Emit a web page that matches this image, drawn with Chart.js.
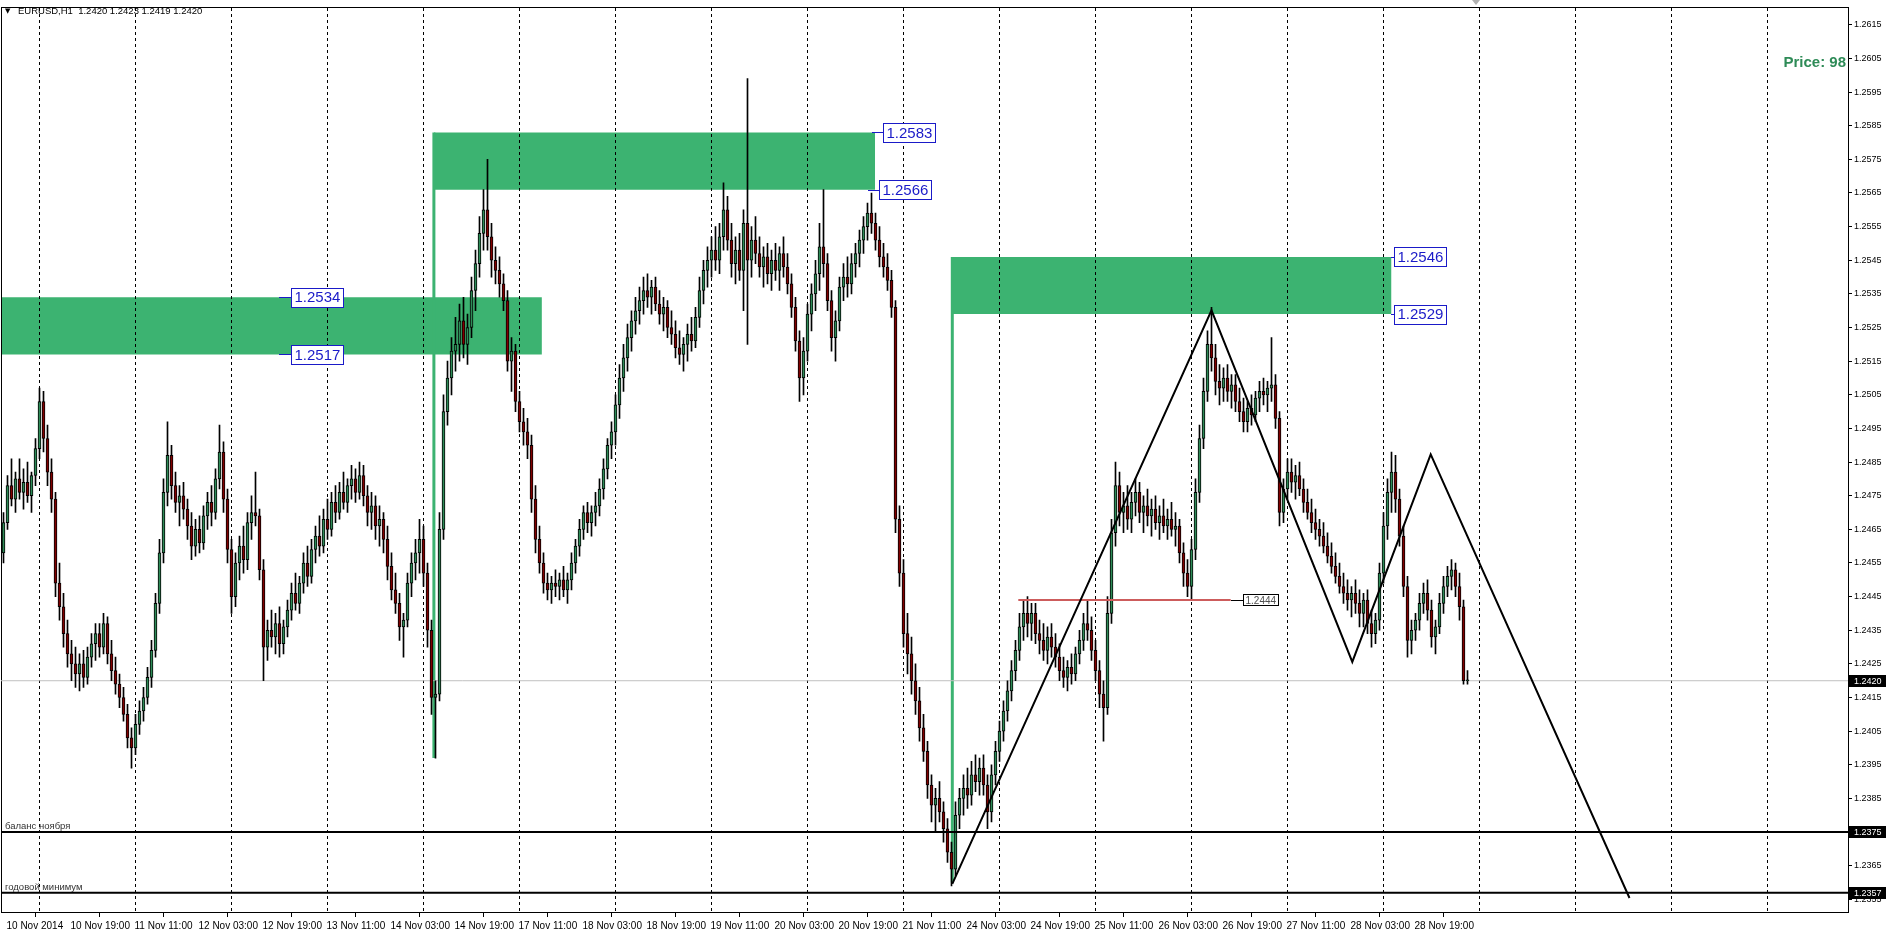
<!DOCTYPE html>
<html><head><meta charset="utf-8"><title>EURUSD,H1</title>
<script src="https://cdn.jsdelivr.net/npm/chart.js@4.4.1/dist/chart.umd.min.js"></script>
<style>
html,body{margin:0;padding:0;background:#fff;overflow:hidden;}
#c{display:block;}
</style></head><body>
<canvas id="c" width="1890" height="941"></canvas>
<script>
// ---------------- data ----------------
const symbolName = 'EURUSD,H1';
const priceIndicatorText = 'Price: 98';
const timeLabels = ['10 Nov 2014','10 Nov 19:00','11 Nov 11:00','12 Nov 03:00','12 Nov 19:00','13 Nov 11:00','14 Nov 03:00','14 Nov 19:00','17 Nov 11:00','18 Nov 03:00','18 Nov 19:00','19 Nov 11:00','20 Nov 03:00','20 Nov 19:00','21 Nov 11:00','24 Nov 03:00','24 Nov 19:00','25 Nov 11:00','26 Nov 03:00','26 Nov 19:00','27 Nov 11:00','28 Nov 03:00','28 Nov 19:00'];
const timeLabelBars = [0,16,32,48,64,80,96,112,128,144,160,176,192,208,224,240,256,272,288,304,320,336,352];
const dayBreakBars = [21,45,69,93,117,141,165,189,213,237,261,285,309,333,357,381,405,429,453];
const priceTicks = [1.2355,1.2365,1.2375,1.2385,1.2395,1.2405,1.2415,1.2425,1.2435,1.2445,1.2455,1.2465,1.2475,1.2485,1.2495,1.2505,1.2515,1.2525,1.2535,1.2545,1.2555,1.2565,1.2575,1.2585,1.2595,1.2605,1.2615];

const barOpen = [
1.2458,1.2467,1.2478,1.2474,1.2480,1.2476,1.2479,1.2475,1.2481,1.2489,1.2503,1.2492,1.2482,1.2474,
1.2449,1.2442,1.2434,1.2428,1.2425,1.2422,1.2425,1.2421,1.2427,1.2431,1.2434,1.2430,1.2437,1.2428,1.2423,1.2419,
1.2415,1.2410,1.2403,1.2400,1.2407,1.2411,1.2415,1.2421,1.2429,
1.2443,1.2458,1.2476,1.2487,1.2478,1.2473,1.2475,1.2471,1.2466,1.2460,1.2465,1.2461,1.2469,1.2473,1.2470,1.2480,1.2488,
1.2474,1.2459,1.2445,1.2455,1.2460,1.2456,1.2467,1.2470,1.2469,1.2453,1.2430,1.2435,1.2433,1.2437,1.2431,1.2436,
1.2441,1.2446,1.2443,1.2449,1.2455,1.2451,1.2459,1.2463,1.2460,1.2468,1.2465,1.2473,1.2470,1.2476,1.2473,1.2478,1.2480,1.2476,
1.2481,1.2475,1.2470,1.2472,1.2466,1.2468,1.2462,1.2454,1.2447,1.2443,1.2436,1.2438,1.2449,1.2455,1.2458,1.2462,1.2452,1.2435,1.2415,
1.2416,1.2465,1.2500,1.2510,1.2518,1.2520,1.2527,1.2520,1.2525,1.2536,1.2544,1.2553,1.2560,1.2552,1.2545,1.2542,
1.2538,1.2533,1.2515,1.2518,1.2503,1.2497,1.2494,1.2490,1.2474,1.2462,1.2455,1.2449,1.2447,1.2449,1.2448,1.2450,1.2447,
1.2450,1.2455,1.2460,1.2465,1.2470,1.2467,1.2470,1.2472,1.2477,1.2483,1.2490,1.2494,1.2502,1.2510,1.2516,1.2522,1.2527,1.2530,
1.2533,1.2536,1.2534,1.2537,1.2532,1.2529,1.2531,1.2525,1.2523,1.2519,1.2517,1.2520,1.2523,1.2521,1.2528,1.2536,1.2542,1.2545,1.2548,1.2545,1.2552,
1.2560,1.2551,1.2544,1.2548,1.2542,1.2556,1.2545,1.2551,1.2547,1.2543,1.2546,1.2541,1.2545,1.2542,1.2547,1.2543,1.2538,1.2531,
1.2521,1.2510,1.2518,1.2529,1.2535,1.2541,1.2549,1.2544,1.2533,1.2522,1.2527,1.2537,1.2540,1.2538,1.2544,1.2547,1.2551,1.2555,1.2559,1.2556,1.2551,1.2546,1.2543,1.2539,
1.2531,1.2468,1.2452,1.2434,1.2428,1.2420,1.2414,1.2406,1.2399,1.2389,1.2383,1.2385,1.2381,1.2376,1.2369,
1.2364,1.2380,1.2385,1.2388,1.2386,1.2392,1.2390,1.2394,1.2389,1.2381,1.2392,1.2399,1.2405,1.2411,1.2417,1.2423,1.2429,1.2436,
1.2440,1.2437,1.2440,1.2434,1.2432,1.2429,1.2433,1.2430,1.2427,1.2423,1.2421,1.2424,1.2422,1.2428,1.2432,1.2437,1.2435,1.2429,1.2423,1.2416,1.2412,
1.2440,1.2464,1.2478,1.2470,1.2472,1.2468,1.2473,1.2476,1.2470,1.2472,1.2469,1.2471,1.2467,1.2469,1.2466,1.2468,1.2465,1.2466,1.2458,1.2452,1.2448,
1.2459,1.2476,1.2492,1.2506,1.2520,1.2516,1.2509,1.2507,1.2510,1.2506,1.2508,1.2503,1.2500,1.2497,1.2501,1.2499,1.2504,1.2506,1.2505,1.2507,1.2508,
1.2498,1.2470,1.2477,1.2482,1.2479,1.2481,1.2477,1.2473,1.2470,1.2467,1.2465,1.2463,1.2460,1.2457,1.2454,1.2451,1.2448,1.2446,1.2444,
1.2446,1.2443,1.2440,1.2444,1.2437,1.2434,1.2438,1.2452,1.2466,1.2476,1.2482,1.2474,
1.2463,1.2448,1.2432,1.2435,1.2438,1.2443,1.2446,1.2441,1.2433,1.2436,1.2443,1.2448,1.2451,1.2453,1.2448,1.2442,1.2420];

const barHigh = [
1.2470,1.2481,1.2486,1.2482,1.2486,1.2483,1.2485,1.2482,1.2492,1.2507,1.2506,1.2496,1.2486,1.2476,
1.2455,1.2446,1.2438,1.2432,1.2430,1.2428,1.2429,1.2430,1.2434,1.2437,1.2437,1.2440,1.2439,1.2432,1.2427,1.2422,
1.2418,1.2413,1.2406,1.2410,1.2414,1.2418,1.2424,1.2432,1.2446,
1.2462,1.2480,1.2497,1.2490,1.2482,1.2478,1.2479,1.2474,1.2470,1.2468,1.2469,1.2472,1.2476,1.2478,1.2483,1.2496,1.2491,
1.2477,1.2462,1.2458,1.2463,1.2466,1.2470,1.2475,1.2482,1.2471,1.2456,1.2438,1.2441,1.2440,1.2442,1.2438,1.2444,
1.2449,1.2452,1.2451,1.2458,1.2460,1.2462,1.2466,1.2469,1.2471,1.2474,1.2476,1.2478,1.2479,1.2482,1.2480,1.2484,1.2483,1.2485,
1.2484,1.2478,1.2476,1.2475,1.2472,1.2470,1.2466,1.2458,1.2452,1.2446,1.2440,1.2452,1.2458,1.2462,1.2468,1.2466,1.2455,1.2438,1.2420,
1.2470,1.2505,1.2515,1.2522,1.2528,1.2532,1.2534,1.2529,1.2540,1.2548,1.2558,1.2566,1.2575,1.2556,1.2549,1.2546,
1.2541,1.2536,1.2522,1.2520,1.2506,1.2501,1.2498,1.2493,1.2478,1.2466,1.2458,1.2452,1.2451,1.2453,1.2452,1.2454,1.2452,
1.2458,1.2462,1.2468,1.2472,1.2473,1.2472,1.2476,1.2480,1.2486,1.2492,1.2497,1.2505,1.2514,1.2520,1.2526,1.2530,1.2534,1.2537,
1.2540,1.2541,1.2539,1.2540,1.2536,1.2534,1.2533,1.2530,1.2527,1.2524,1.2522,1.2526,1.2528,1.2531,1.2540,1.2545,1.2549,1.2552,1.2555,1.2556,1.2568,
1.2564,1.2556,1.2552,1.2553,1.2560,1.2599,1.2555,1.2558,1.2552,1.2549,1.2550,1.2548,1.2550,1.2549,1.2552,1.2547,1.2541,1.2534,
1.2524,1.2522,1.2532,1.2538,1.2545,1.2556,1.2566,1.2547,1.2536,1.2530,1.2540,1.2544,1.2546,1.2547,1.2550,1.2554,1.2558,1.2562,1.2565,1.2559,1.2555,1.2550,1.2547,1.2542,
1.2533,1.2472,1.2456,1.2440,1.2433,1.2425,1.2418,1.2410,1.2402,1.2392,1.2388,1.2390,1.2384,1.2379,1.2372,
1.2384,1.2388,1.2392,1.2394,1.2396,1.2398,1.2397,1.2398,1.2392,1.2395,1.2402,1.2408,1.2414,1.2420,1.2426,1.2432,1.2440,1.2444,
1.2445,1.2443,1.2443,1.2438,1.2437,1.2436,1.2437,1.2434,1.2431,1.2427,1.2426,1.2428,1.2430,1.2435,1.2440,1.2444,1.2439,1.2432,1.2426,1.2420,1.2445,
1.2468,1.2485,1.2482,1.2476,1.2478,1.2476,1.2480,1.2479,1.2475,1.2477,1.2474,1.2475,1.2472,1.2474,1.2471,1.2473,1.2470,1.2468,1.2461,1.2456,1.2462,
1.2480,1.2496,1.2510,1.2524,1.2531,1.2520,1.2514,1.2513,1.2514,1.2511,1.2511,1.2507,1.2504,1.2503,1.2505,1.2506,1.2509,1.2510,1.2509,1.2522,1.2511,
1.2500,1.2480,1.2486,1.2486,1.2484,1.2485,1.2480,1.2477,1.2474,1.2471,1.2468,1.2467,1.2464,1.2461,1.2458,1.2455,1.2452,1.2450,1.2448,
1.2450,1.2447,1.2446,1.2447,1.2441,1.2440,1.2455,1.2470,1.2480,1.2488,1.2487,1.2477,
1.2466,1.2451,1.2438,1.2440,1.2446,1.2449,1.2450,1.2444,1.2438,1.2446,1.2451,1.2454,1.2456,1.2455,1.2452,1.2444,1.2423];

const barLow = [
1.2455,1.2465,1.2472,1.2470,1.2474,1.2471,1.2473,1.2470,1.2478,1.2486,1.2488,1.2478,1.2470,1.2445,
1.2438,1.2430,1.2424,1.2420,1.2418,1.2417,1.2418,1.2419,1.2424,1.2426,1.2427,1.2428,1.2425,1.2420,1.2416,1.2412,
1.2408,1.2400,1.2394,1.2398,1.2404,1.2408,1.2413,1.2418,1.2427,
1.2440,1.2455,1.2472,1.2474,1.2470,1.2466,1.2468,1.2462,1.2456,1.2457,1.2458,1.2459,1.2465,1.2466,1.2468,1.2477,1.2470,
1.2455,1.2440,1.2442,1.2450,1.2452,1.2453,1.2462,1.2466,1.2450,1.2420,1.2426,1.2430,1.2428,1.2427,1.2428,1.2433,
1.2438,1.2441,1.2440,1.2446,1.2448,1.2449,1.2455,1.2457,1.2458,1.2462,1.2463,1.2467,1.2468,1.2471,1.2470,1.2474,1.2473,1.2474,
1.2472,1.2466,1.2465,1.2462,1.2460,1.2458,1.2450,1.2444,1.2440,1.2432,1.2427,1.2436,1.2445,1.2450,1.2452,1.2448,1.2430,1.2410,1.2397,
1.2414,1.2462,1.2496,1.2505,1.2512,1.2515,1.2516,1.2514,1.2522,1.2530,1.2540,1.2548,1.2548,1.2540,1.2538,1.2534,
1.2530,1.2512,1.2506,1.2500,1.2494,1.2490,1.2486,1.2470,1.2458,1.2452,1.2446,1.2444,1.2443,1.2445,1.2444,1.2445,1.2443,
1.2447,1.2452,1.2457,1.2462,1.2464,1.2463,1.2466,1.2469,1.2474,1.2480,1.2486,1.2490,1.2498,1.2506,1.2512,1.2518,1.2523,1.2526,
1.2529,1.2531,1.2529,1.2530,1.2526,1.2524,1.2522,1.2520,1.2516,1.2514,1.2512,1.2515,1.2518,1.2519,1.2525,1.2532,1.2537,1.2540,1.2542,1.2541,1.2548,
1.2548,1.2540,1.2538,1.2539,1.2530,1.2520,1.2540,1.2544,1.2540,1.2537,1.2538,1.2536,1.2539,1.2536,1.2540,1.2535,1.2528,1.2518,
1.2503,1.2505,1.2515,1.2524,1.2530,1.2536,1.2540,1.2530,1.2518,1.2515,1.2524,1.2533,1.2534,1.2535,1.2540,1.2543,1.2547,1.2551,1.2553,1.2548,1.2543,1.2540,1.2536,1.2528,
1.2464,1.2448,1.2430,1.2422,1.2416,1.2410,1.2402,1.2396,1.2385,1.2378,1.2375,1.2378,1.2372,1.2366,1.2359,
1.2362,1.2376,1.2380,1.2382,1.2383,1.2387,1.2386,1.2386,1.2376,1.2378,1.2389,1.2396,1.2402,1.2408,1.2414,1.2420,1.2426,1.2432,
1.2433,1.2432,1.2431,1.2428,1.2426,1.2425,1.2427,1.2424,1.2420,1.2418,1.2417,1.2419,1.2420,1.2425,1.2429,1.2432,1.2426,1.2420,1.2412,1.2402,1.2410,
1.2437,1.2460,1.2466,1.2464,1.2465,1.2464,1.2469,1.2467,1.2464,1.2466,1.2463,1.2465,1.2462,1.2464,1.2462,1.2463,1.2460,1.2455,1.2448,1.2445,1.2444,
1.2456,1.2473,1.2489,1.2503,1.2512,1.2505,1.2502,1.2503,1.2503,1.2501,1.2500,1.2497,1.2494,1.2494,1.2496,1.2497,1.2500,1.2502,1.2500,1.2503,1.2495,
1.2466,1.2467,1.2474,1.2476,1.2474,1.2475,1.2470,1.2468,1.2464,1.2462,1.2460,1.2458,1.2455,1.2452,1.2449,1.2446,1.2443,1.2441,1.2439,
1.2440,1.2436,1.2436,1.2434,1.2430,1.2431,1.2435,1.2449,1.2462,1.2470,1.2470,1.2460,
1.2445,1.2427,1.2428,1.2432,1.2435,1.2440,1.2438,1.2430,1.2428,1.2434,1.2440,1.2445,1.2447,1.2445,1.2438,1.2419,1.2419];

const barClose = [
1.2467,1.2478,1.2474,1.2480,1.2476,1.2479,1.2475,1.2481,1.2489,1.2503,1.2492,1.2482,1.2474,1.2449,
1.2442,1.2434,1.2428,1.2425,1.2422,1.2425,1.2421,1.2427,1.2431,1.2434,1.2430,1.2437,1.2428,1.2423,1.2419,1.2415,
1.2410,1.2403,1.2400,1.2407,1.2411,1.2415,1.2421,1.2429,1.2443,
1.2458,1.2476,1.2487,1.2478,1.2473,1.2475,1.2471,1.2466,1.2460,1.2465,1.2461,1.2469,1.2473,1.2470,1.2480,1.2488,1.2474,
1.2459,1.2445,1.2455,1.2460,1.2456,1.2467,1.2470,1.2469,1.2453,1.2430,1.2435,1.2433,1.2437,1.2431,1.2436,1.2441,
1.2446,1.2443,1.2449,1.2455,1.2451,1.2459,1.2463,1.2460,1.2468,1.2465,1.2473,1.2470,1.2476,1.2473,1.2478,1.2480,1.2476,1.2481,
1.2475,1.2470,1.2472,1.2466,1.2468,1.2462,1.2454,1.2447,1.2443,1.2436,1.2438,1.2449,1.2455,1.2458,1.2462,1.2452,1.2435,1.2415,1.2416,
1.2465,1.2500,1.2510,1.2518,1.2520,1.2527,1.2520,1.2525,1.2536,1.2544,1.2553,1.2560,1.2552,1.2545,1.2542,1.2538,
1.2533,1.2515,1.2518,1.2503,1.2497,1.2494,1.2490,1.2474,1.2462,1.2455,1.2449,1.2447,1.2449,1.2448,1.2450,1.2447,1.2450,
1.2455,1.2460,1.2465,1.2470,1.2467,1.2470,1.2472,1.2477,1.2483,1.2490,1.2494,1.2502,1.2510,1.2516,1.2522,1.2527,1.2530,1.2533,
1.2536,1.2534,1.2537,1.2532,1.2529,1.2531,1.2525,1.2523,1.2519,1.2517,1.2520,1.2523,1.2521,1.2528,1.2536,1.2542,1.2545,1.2548,1.2545,1.2552,1.2560,
1.2551,1.2544,1.2548,1.2542,1.2556,1.2545,1.2551,1.2547,1.2543,1.2546,1.2541,1.2545,1.2542,1.2547,1.2543,1.2538,1.2531,1.2521,
1.2510,1.2518,1.2529,1.2535,1.2541,1.2549,1.2544,1.2533,1.2522,1.2527,1.2537,1.2540,1.2538,1.2544,1.2547,1.2551,1.2555,1.2559,1.2556,1.2551,1.2546,1.2543,1.2539,1.2531,
1.2468,1.2452,1.2434,1.2428,1.2420,1.2414,1.2406,1.2399,1.2389,1.2383,1.2385,1.2381,1.2376,1.2369,1.2364,
1.2380,1.2385,1.2388,1.2386,1.2392,1.2390,1.2394,1.2389,1.2381,1.2392,1.2399,1.2405,1.2411,1.2417,1.2423,1.2429,1.2436,1.2440,
1.2437,1.2440,1.2434,1.2432,1.2429,1.2433,1.2430,1.2427,1.2423,1.2421,1.2424,1.2422,1.2428,1.2432,1.2437,1.2435,1.2429,1.2423,1.2416,1.2412,1.2440,
1.2464,1.2478,1.2470,1.2472,1.2468,1.2473,1.2476,1.2470,1.2472,1.2469,1.2471,1.2467,1.2469,1.2466,1.2468,1.2465,1.2466,1.2458,1.2452,1.2448,1.2459,
1.2476,1.2492,1.2506,1.2520,1.2516,1.2509,1.2507,1.2510,1.2506,1.2508,1.2503,1.2500,1.2497,1.2501,1.2499,1.2504,1.2506,1.2505,1.2507,1.2508,1.2498,
1.2470,1.2477,1.2482,1.2479,1.2481,1.2477,1.2473,1.2470,1.2467,1.2465,1.2463,1.2460,1.2457,1.2454,1.2451,1.2448,1.2446,1.2444,1.2446,
1.2443,1.2440,1.2444,1.2437,1.2434,1.2438,1.2452,1.2466,1.2476,1.2482,1.2474,1.2463,
1.2448,1.2432,1.2435,1.2438,1.2443,1.2446,1.2441,1.2433,1.2436,1.2443,1.2448,1.2451,1.2453,1.2448,1.2442,1.2420,1.2420];

// supply / demand zones
const zoneTop = [1.2534, 1.2583, 1.2546];
const zoneBottom = [1.2517, 1.2566, 1.2529];
const zoneFromBar = [-0.62, 107.6, 237.2];
const zoneToBar = [134.6, 217.9, 347.0];
const zoneStemLow = [null, 1.2397, 1.2360];
// price label objects
const priceLabelValues = [1.2534, 1.2517, 1.2583, 1.2566, 1.2546, 1.2529];
const priceLabelBars = [68.9, 68.9, 217.1, 216.1, 346.9, 346.9];
// horizontal levels
const levelPrices = [1.2375, 1.2357];
const levelNames = ['баланс ноября', 'годовой минимум'];
const redLevelPrice = 1.2444;
const redLevelBars = [253.7, 306.8];
// projected zigzag
const zigzagBars = [237.2, 302.0, 337.2, 356.8, 406.5];
const zigzagPrices = [1.23596, 1.25301, 1.24256, 1.24873, 1.23554];

// ---------------- view / style ----------------
const X_MIN = -0.625, X_MAX = 461.125;
const Y_MIN = 1.2351243, Y_MAX = 1.2620178;
const ZONE_GREEN = '#3CB371';
const BULL_FILL = '#2E8B57', BEAR_FILL = '#800000';
const LABEL_GAP = [12, 12, 11, 11, 3, 3];
const FONT = '"Liberation Sans", Arial, sans-serif';

const lastIdx = barClose.length - 1;
const candleBodies = barOpen.map((o, i) => ({x: i, y: [o, barClose[i]]}));
const candleWicks = barHigh.map((h, i) => ({x: i, y: [barLow[i], h]}));
const bodyColors = barOpen.map((o, i) => barClose[i] >= o ? BULL_FILL : BEAR_FILL);

function lineDS(points, color, width, order, extra) {
  return Object.assign({type: 'line', data: points, borderColor: color, borderWidth: width,
    pointRadius: 0, pointHoverRadius: 0, fill: false, tension: 0, order: order,
    xAxisID: 'x', yAxisID: 'y'}, extra || {});
}

const datasets = [];
// current bid line first (keeps zone fill targets at non-zero indexes)
datasets.push(lineDS([{x: X_MIN - 5, y: barClose[lastIdx]}, {x: X_MAX + 5, y: barClose[lastIdx]}], '#c0c0c0', 1, 19));
zoneTop.forEach((t, k) => {
  datasets.push(lineDS([{x: zoneFromBar[k], y: t}, {x: zoneToBar[k], y: t}], 'rgba(0,0,0,0)', 0, 30));
  datasets.push(lineDS([{x: zoneFromBar[k], y: zoneBottom[k]}, {x: zoneToBar[k], y: zoneBottom[k]}], 'rgba(0,0,0,0)', 0, 30,
    {fill: '-1', backgroundColor: ZONE_GREEN}));
});
zoneStemLow.forEach((low, k) => {
  if (low === null) return;
  datasets.push(lineDS([{x: zoneFromBar[k], y: zoneTop[k]}, {x: zoneFromBar[k], y: low}], ZONE_GREEN, 3, 20));
});
datasets.push({type: 'bar', data: candleWicks, backgroundColor: '#000', borderWidth: 0, barThickness: 1,
  grouped: false, order: 11, xAxisID: 'x', yAxisID: 'y'});
datasets.push({type: 'bar', data: candleBodies, backgroundColor: bodyColors, borderColor: '#000', borderWidth: 1,
  borderSkipped: false, barThickness: 3, grouped: false, minBarLength: 1, order: 10, xAxisID: 'x', yAxisID: 'y'});
datasets.push(lineDS([{x: redLevelBars[0], y: redLevelPrice}, {x: redLevelBars[1], y: redLevelPrice}], '#CD5C5C', 2, 5));
levelPrices.forEach(p => datasets.push(lineDS([{x: X_MIN - 5, y: p}, {x: X_MAX + 5, y: p}], '#000', 2, 4)));
datasets.push(lineDS(zigzagBars.map((b, i) => ({x: b, y: zigzagPrices[i]})), '#000', 2, 3));

function priceBox(ctx, x0, y, gap, text, font, textColor, lineColor, h, pad) {
  ctx.font = font;
  const w = Math.round(ctx.measureText(text).width) + pad * 2;
  const yy = Math.round(y) + 0.5;
  const bx = Math.round(x0 + gap) + 0.5;
  ctx.strokeStyle = lineColor; ctx.lineWidth = 1;
  ctx.beginPath(); ctx.moveTo(Math.round(x0), yy); ctx.lineTo(bx, yy); ctx.stroke();
  const by = Math.round(y - h / 2) + 0.5;
  ctx.fillStyle = '#fff'; ctx.fillRect(bx, by, w, h);
  ctx.strokeRect(bx, by, w, h);
  ctx.fillStyle = textColor; ctx.textBaseline = 'middle'; ctx.textAlign = 'left';
  ctx.fillText(text, bx + pad, y + 1);
}

const overlay = {
  id: 'overlay',
  afterDatasetsDraw(chart) {
    const ctx = chart.ctx, xs = chart.scales.x, ys = chart.scales.y, area = chart.chartArea;
    ctx.save();
    ctx.beginPath(); ctx.rect(area.left, area.top, area.right - area.left, area.bottom - area.top); ctx.clip();
    ctx.font = '9.5px ' + FONT; ctx.fillStyle = '#333'; ctx.textAlign = 'left'; ctx.textBaseline = 'alphabetic';
    levelPrices.forEach((p, k) => ctx.fillText(levelNames[k], area.left + 4, ys.getPixelForValue(p) - 3));
    priceLabelValues.forEach((v, k) => {
      priceBox(ctx, xs.getPixelForValue(priceLabelBars[k]), ys.getPixelForValue(v), LABEL_GAP[k], v.toFixed(4),
        '15px ' + FONT, '#1a1ac8', '#1a1ac8', 19, 3);
    });
    priceBox(ctx, xs.getPixelForValue(redLevelBars[1]), ys.getPixelForValue(redLevelPrice), 12, redLevelPrice.toFixed(4),
      '10px ' + FONT, '#505050', '#000', 11, 2);
    ctx.restore();
  },
  afterDraw(chart) {
    const ctx = chart.ctx, ys = chart.scales.y, xs = chart.scales.x, area = chart.chartArea;
    ctx.save();
    const boxed = [barClose[lastIdx]].concat(levelPrices);
    ctx.font = '9px ' + FONT; ctx.textBaseline = 'middle'; ctx.textAlign = 'left';
    boxed.forEach(v => {
      const y = Math.round(ys.getPixelForValue(v));
      ctx.fillStyle = '#000'; ctx.fillRect(area.right + 1, y - 6, 37, 12);
      ctx.fillStyle = '#fff'; ctx.fillText(v.toFixed(4), area.right + 6, y + 0.5);
    });
    ctx.fillStyle = '#000';
    ctx.font = '7px "DejaVu Sans"';
    ctx.fillText('\u25BC', 5, 11);
    ctx.font = '9.5px ' + FONT;
    const ohlc = [barOpen[lastIdx], barHigh[lastIdx], barLow[lastIdx], barClose[lastIdx]].map(v => v.toFixed(4)).join(' ');
    ctx.fillText(symbolName + '  ' + ohlc, 18, 11);
    ctx.font = 'bold 15px ' + FONT; ctx.fillStyle = '#2E8B57'; ctx.textAlign = 'right'; ctx.textBaseline = 'alphabetic';
    ctx.fillText(priceIndicatorText, area.right - 2, 67);
    const mx = Math.round(xs.getPixelForValue(lastIdx + 2));
    ctx.fillStyle = '#b0b0b0';
    ctx.beginPath(); ctx.moveTo(mx - 4, 0); ctx.lineTo(mx + 4, 0); ctx.lineTo(mx, 5); ctx.closePath(); ctx.fill();
    ctx.restore();
  }
};

new Chart(document.getElementById('c'), {
  type: 'bar',
  data: {datasets: datasets},
  plugins: [overlay],
  options: {
    responsive: false, animation: false, devicePixelRatio: 1, events: [],
    layout: {padding: 0},
    plugins: {legend: {display: false}, tooltip: {enabled: false}, filler: {drawTime: 'beforeDraw'}},
    scales: {
      x: {type: 'linear', position: 'bottom', min: X_MIN, max: X_MAX, offset: false,
        afterBuildTicks: s => { s.ticks = timeLabelBars.map(v => ({value: v})); },
        afterFit: s => { s.height = 29; },
        ticks: {autoSkip: false, maxRotation: 0, minRotation: 0, align: 'start', labelOffset: 3, padding: 3,
          color: '#000', font: {family: FONT, size: 10}, callback: (v, i) => timeLabels[i]},
        grid: {display: true, drawOnChartArea: false, drawTicks: true, tickLength: 5, color: '#000', lineWidth: 1},
        border: {display: true, color: '#000', width: 1}},
      x2: {type: 'linear', position: 'top', min: X_MIN, max: X_MAX, offset: false,
        afterBuildTicks: s => { s.ticks = dayBreakBars.map(v => ({value: v})); },
        afterFit: s => { s.height = 3; },
        ticks: {display: false},
        grid: {display: true, drawOnChartArea: true, drawTicks: false, color: '#000', lineWidth: 1},
        border: {display: true, color: '#000', width: 1, dash: [3, 3]}},
      y: {type: 'linear', position: 'right', min: Y_MIN, max: Y_MAX,
        afterBuildTicks: s => { s.ticks = priceTicks.map(v => ({value: v})); },
        afterFit: s => { s.width = 42; },
        ticks: {autoSkip: false, padding: 2, color: '#000', font: {family: FONT, size: 9}, callback: v => v.toFixed(4)},
        grid: {display: true, drawOnChartArea: false, drawTicks: true, tickLength: 4, color: '#000'},
        border: {display: true, color: '#000', width: 1}},
      yl: {type: 'linear', position: 'left', min: Y_MIN, max: Y_MAX,
        afterFit: s => { s.width = 1; },
        ticks: {display: false}, grid: {display: false},
        border: {display: true, color: '#000', width: 1}}
    }
  }
});
</script></body></html>
